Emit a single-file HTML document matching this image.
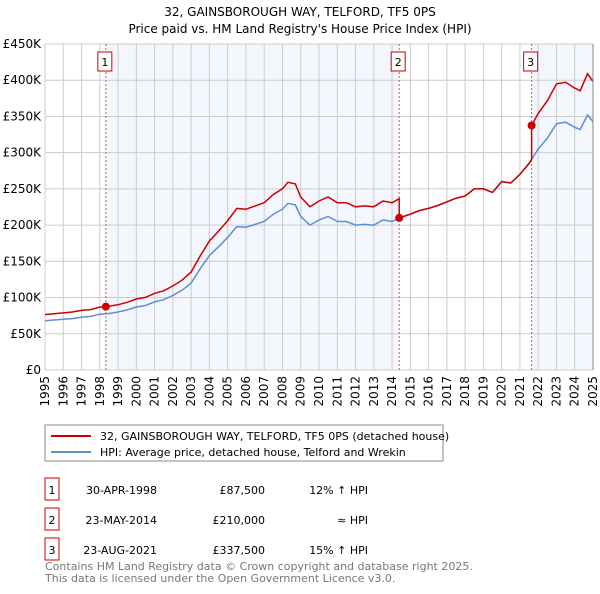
<!DOCTYPE html>
<html><head><meta charset="utf-8"><style>
body{margin:0;background:#fff;font-family:"DejaVu Sans","Liberation Sans",sans-serif;}
svg text{font-family:"DejaVu Sans","Liberation Sans",sans-serif;}
</style></head><body>
<svg id="c" width="600" height="590" viewBox="0 0 600 590" xmlns="http://www.w3.org/2000/svg">
<text x="300" y="16" text-anchor="middle" font-size="12">32, GAINSBOROUGH WAY, TELFORD, TF5 0PS</text>
<text x="300" y="33" text-anchor="middle" font-size="12">Price paid vs. HM Land Registry's House Price Index (HPI)</text>
<g id="plot"></g>
<rect x="45" y="425" width="398" height="36" fill="#fff" stroke="#888"/>
<line x1="51" y1="436" x2="91" y2="436" stroke="#cc0000" stroke-width="2"/>
<text x="100" y="440" font-size="11">32, GAINSBOROUGH WAY, TELFORD, TF5 0PS (detached house)</text>
<line x1="51" y1="452" x2="91" y2="452" stroke="#5f8fd0" stroke-width="2"/>
<text x="100" y="456" font-size="11">HPI: Average price, detached house, Telford and Wrekin</text>
<g id="table" font-size="11"></g>
<text x="45" y="570" font-size="11" fill="#777">Contains HM Land Registry data © Crown copyright and database right 2025.</text>
<text x="45" y="582" font-size="11" fill="#777">This data is licensed under the Open Government Licence v3.0.</text>
</svg>
<script>
const hpiYears=[1995,1995.5,1996,1996.5,1997,1997.5,1998,1998.5,1999,1999.5,2000,2000.5,2001,2001.5,2002,2002.5,2003,2003.5,2004,2004.5,2005,2005.5,2006,2006.5,2007,2007.5,2008,2008.3,2008.7,2009,2009.5,2010,2010.5,2011,2011.5,2012,2012.5,2013,2013.5,2014,2014.4,2015,2015.5,2016,2016.5,2017,2017.5,2018,2018.5,2019,2019.5,2020,2020.5,2021,2021.5,2022,2022.5,2023,2023.5,2024,2024.3,2024.7,2025];
const hpiValues=[68,69,70,71,73,74,77,78,80,83,87,89,94,97,103,110,120,140,158,170,183,198,197,201,205,215,222,230,228,212,200,207,212,205,205,200,201,200,207,205,210,215,220,223,227,232,237,240,250,250,245,260,258,270,285,305,320,340,342,335,332,352,343];
const saleYears=[1998.33,2014.39,2021.64];
const salePrices=[87.5,210,337.5];
const saleLabels=["1","2","3"];
const saleDates=["30-APR-1998","23-MAY-2014","23-AUG-2021"];
const salePriceText=["£87,500","£210,000","£337,500"];
const saleHpiText=["12% \u2191 HPI","\u2248 HPI","15% \u2191 HPI"];
const yTicks=[0,50,100,150,200,250,300,350,400,450];
const yTickLabels=["£0","£50K","£100K","£150K","£200K","£250K","£300K","£350K","£400K","£450K"];
const xTicks=[1995,1996,1997,1998,1999,2000,2001,2002,2003,2004,2005,2006,2007,2008,2009,2010,2011,2012,2013,2014,2015,2016,2017,2018,2019,2020,2021,2022,2023,2024,2025];

const NS="http://www.w3.org/2000/svg";
const L=45,R=593,T=44,B=370;
const sx=y=>L+(y-1995)/30*(R-L);
const sy=v=>B-v/450*(B-T);
function mk(tag,a,p){const e=document.createElementNS(NS,tag);for(const k in a)e.setAttribute(k,a[k]);(p||plot).appendChild(e);return e;}
const plot=document.getElementById('plot');
function hpiAt(t){for(let i=0;i<hpiYears.length-1;i++){if(t<=hpiYears[i+1]){const f=(t-hpiYears[i])/(hpiYears[i+1]-hpiYears[i]);return hpiValues[i]+f*(hpiValues[i+1]-hpiValues[i]);}}return hpiValues[hpiValues.length-1];}
let sh1=mk('rect',{x:sx(saleYears[0]),y:T,width:sx(saleYears[1])-sx(saleYears[0]),height:B-T,fill:'#f3f6fd'});

let sh2=mk('rect',{x:sx(saleYears[2]),y:T,width:R-sx(saleYears[2]),height:B-T,fill:'#f3f6fd'});

yTicks.forEach((v,i)=>{const g=mk('line',{x1:L,x2:R,y1:sy(v),y2:sy(v),stroke:'#ccc'});
const t=mk('text',{x:L-4,y:sy(v)+4,'text-anchor':'end','font-size':12});t.textContent=yTickLabels[i];});
xTicks.forEach(y=>{const g=mk('line',{x1:sx(y),x2:sx(y),y1:T,y2:B,stroke:'#ccc'});
const tx=sx(y)+4,ty=376;
const t=mk('text',{x:tx,y:ty,'text-anchor':'end','font-size':12,transform:'rotate(-90,'+tx+','+ty+')'});t.textContent=y;});
saleYears.forEach((y,i)=>{const l=mk('line',{x1:sx(y),x2:sx(y),y1:T,y2:B,stroke:'#e05050','stroke-dasharray':'2,2'});
const r=mk('rect',{x:sx(y)-8,y:52,width:14,height:19,fill:'#fff',stroke:'#cc0000'});
const t=mk('text',{x:sx(y)-1,y:66,'text-anchor':'middle','font-size':11});t.textContent=saleLabels[i];});
let hp=hpiYears.map((y,i)=>sx(y).toFixed(1)+','+sy(hpiValues[i]).toFixed(1)).join(' ');
const hl=mk('polyline',{points:hp,fill:'none',stroke:'#5f8fd0','stroke-width':1.5});

const rat=saleYears.map((y,i)=>salePrices[i]/hpiAt(y));
let pts=[];
function ratioAt(t){let k=0;for(let i=0;i<saleYears.length;i++)if(t>=saleYears[i])k=i;return rat[k];}
hpiYears.forEach((y,i)=>{
  saleYears.forEach((s,j)=>{if(i>0&&hpiYears[i-1]<s&&y>=s){const pr=j>0?rat[j-1]:rat[0];pts.push([s,hpiAt(s)*pr]);pts.push([s,salePrices[j]]);}});
  pts.push([y,hpiValues[i]*ratioAt(y)]);});
const pl=mk('polyline',{points:pts.map(p=>sx(p[0]).toFixed(1)+','+sy(p[1]).toFixed(1)).join(' '),fill:'none',stroke:'#cc0000','stroke-width':1.5});

saleYears.forEach((y,i)=>{const c=mk('circle',{cx:sx(y),cy:sy(salePrices[i]),r:4,fill:'#cc0000'});});
const ax=mk('line',{x1:R,x2:R,y1:T,y2:B,stroke:'#888'});
const tb=document.getElementById('table');
saleLabels.forEach((lb,i)=>{const y=490+i*30;
const r=mk('rect',{x:45,y:y-12,width:14,height:22,fill:'#fff',stroke:'#cc0000'},tb);
const a=mk('text',{x:52,y:y+4,'text-anchor':'middle'},tb);a.textContent=lb;
const d=mk('text',{x:157,y:y+4,'text-anchor':'end'},tb);d.textContent=saleDates[i];
const p=mk('text',{x:265,y:y+4,'text-anchor':'end'},tb);p.textContent=salePriceText[i];
const h=mk('text',{x:368,y:y+4,'text-anchor':'end'},tb);h.textContent=saleHpiText[i];});
</script>
</body></html>
